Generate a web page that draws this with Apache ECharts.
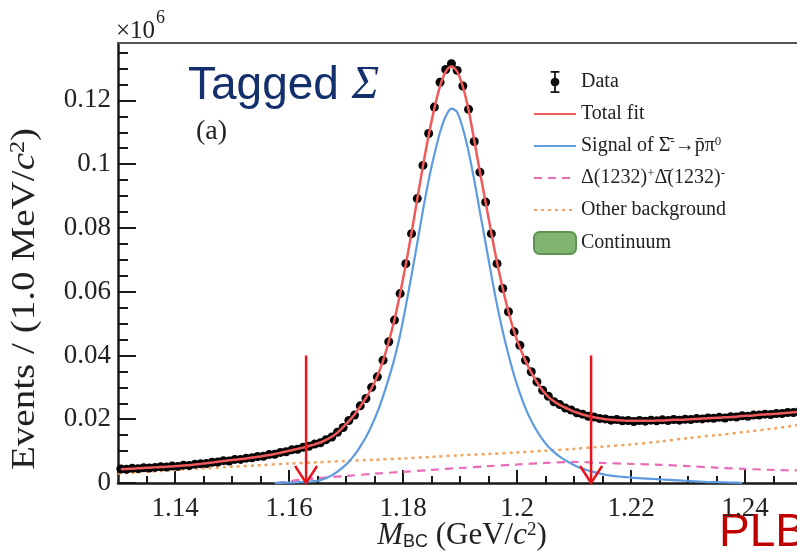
<!DOCTYPE html>
<html>
<head>
<meta charset="utf-8">
<script src="https://cdn.jsdelivr.net/npm/echarts@6/dist/echarts.min.js"></script>
<style>
html, body { margin: 0; padding: 0; background: #fff; }
#chart { width: 797px; height: 555px; }
</style>
</head>
<body>
<div id="chart"></div>
<script>
// bin centres (1 MeV bins), values in units of 10^6 events
var massBins = [
  1.1305, 1.1315, 1.1325, 1.1335, 1.1345, 1.1355, 1.1365, 1.1375, 1.1385, 1.1395,
  1.1405, 1.1415, 1.1425, 1.1435, 1.1445, 1.1455, 1.1465, 1.1475, 1.1485, 1.1495,
  1.1505, 1.1515, 1.1525, 1.1535, 1.1545, 1.1555, 1.1565, 1.1575, 1.1585, 1.1595,
  1.1605, 1.1615, 1.1625, 1.1635, 1.1645, 1.1655, 1.1665, 1.1675, 1.1685, 1.1695,
  1.1705, 1.1715, 1.1725, 1.1735, 1.1745, 1.1755, 1.1765, 1.1775, 1.1785, 1.1795,
  1.1805, 1.1815, 1.1825, 1.1835, 1.1845, 1.1855, 1.1865, 1.1875, 1.1885, 1.1895,
  1.1905, 1.1915, 1.1925, 1.1935, 1.1945, 1.1955, 1.1965, 1.1975, 1.1985, 1.1995,
  1.2005, 1.2015, 1.2025, 1.2035, 1.2045, 1.2055, 1.2065, 1.2075, 1.2085, 1.2095,
  1.2105, 1.2115, 1.2125, 1.2135, 1.2145, 1.2155, 1.2165, 1.2175, 1.2185, 1.2195,
  1.2205, 1.2215, 1.2225, 1.2235, 1.2245, 1.2255, 1.2265, 1.2275, 1.2285, 1.2295,
  1.2305, 1.2315, 1.2325, 1.2335, 1.2345, 1.2355, 1.2365, 1.2375, 1.2385, 1.2395,
  1.2405, 1.2415, 1.2425, 1.2435, 1.2445, 1.2455, 1.2465, 1.2475, 1.2485, 1.2495
];

var dataEvents = [
  0.0044, 0.0043, 0.0046, 0.0045, 0.0048, 0.0047, 0.0049, 0.0051, 0.0050, 0.0053,
  0.0052, 0.0056, 0.0055, 0.0059, 0.0060, 0.0061, 0.0065, 0.0066, 0.0070, 0.0069,
  0.0074, 0.0074, 0.0078, 0.0079, 0.0083, 0.0084, 0.0089, 0.0090, 0.0096, 0.0098,
  0.0104, 0.0106, 0.0112, 0.0115, 0.0122, 0.0126, 0.0136, 0.0144, 0.0159, 0.0174,
  0.0196, 0.0213, 0.0242, 0.0265, 0.0300, 0.0333, 0.0385, 0.0443, 0.0511, 0.0594,
  0.0688, 0.0782, 0.0892, 0.0996, 0.1096, 0.1179, 0.1257, 0.1297, 0.1315, 0.1294,
  0.1245, 0.1172, 0.1071, 0.0975, 0.0881, 0.0782, 0.0688, 0.0610, 0.0537, 0.0474,
  0.0432, 0.0385, 0.0349, 0.0317, 0.0291, 0.0272, 0.0255, 0.0246, 0.0235, 0.0229,
  0.0220, 0.0216, 0.0209, 0.0207, 0.0202, 0.0201, 0.0197, 0.0199, 0.0195, 0.0196,
  0.0193, 0.0196, 0.0194, 0.0197, 0.0195, 0.0198, 0.0196, 0.0199, 0.0197, 0.0200,
  0.0199, 0.0202, 0.0201, 0.0204, 0.0203, 0.0206, 0.0204, 0.0208, 0.0207, 0.0211,
  0.0209, 0.0213, 0.0213, 0.0216, 0.0215, 0.0218, 0.0218, 0.0221, 0.0221, 0.0224
];

var totalFit = [
  0.0043, 0.0044, 0.0045, 0.0046, 0.0047, 0.0048, 0.0049, 0.0050, 0.0051, 0.0052,
  0.0053, 0.0055, 0.0056, 0.0058, 0.0060, 0.0062, 0.0064, 0.0067, 0.0069, 0.0071,
  0.0073, 0.0075, 0.0077, 0.0080, 0.0082, 0.0085, 0.0088, 0.0091, 0.0095, 0.0099,
  0.0103, 0.0107, 0.0111, 0.0116, 0.0121, 0.0127, 0.0135, 0.0145, 0.0158, 0.0175,
  0.0194, 0.0215, 0.0240, 0.0267, 0.0298, 0.0335, 0.0383, 0.0443, 0.0512, 0.0594,
  0.0686, 0.0785, 0.0890, 0.0994, 0.1090, 0.1175, 0.1245, 0.1290, 0.1306, 0.1290,
  0.1243, 0.1170, 0.1075, 0.0975, 0.0880, 0.0784, 0.0692, 0.0610, 0.0537, 0.0475,
  0.0425, 0.0383, 0.0347, 0.0316, 0.0290, 0.0270, 0.0256, 0.0245, 0.0236, 0.0228,
  0.0221, 0.0215, 0.0210, 0.0206, 0.0203, 0.0200, 0.0198, 0.0197, 0.0196, 0.0195,
  0.0195, 0.0195, 0.0195, 0.0195, 0.0196, 0.0196, 0.0197, 0.0198, 0.0198, 0.0199,
  0.0200, 0.0201, 0.0202, 0.0203, 0.0204, 0.0205, 0.0206, 0.0207, 0.0208, 0.0210,
  0.0211, 0.0212, 0.0214, 0.0215, 0.0216, 0.0217, 0.0219, 0.0220, 0.0222, 0.0223
];

// null where the signal curve is not drawn
var signalFit = [
  null, null, null, null, null, null, null, null, null, null,
  null, null, null, null, null, null, null, null, null, null,
  null, null, null, null, null, null, null, 0, 0.0001, 0.0001,
  0.0001, 0.0002, 0.0003, 0.0004, 0.0006, 0.0009, 0.0015, 0.0024, 0.0036, 0.0050,
  0.0067, 0.0088, 0.0114, 0.0144, 0.0180, 0.0222, 0.0272, 0.0328, 0.0390, 0.0465,
  0.0556, 0.0652, 0.0752, 0.0855, 0.0950, 0.1030, 0.1100, 0.1150, 0.1174, 0.1163,
  0.1112, 0.1040, 0.0950, 0.0850, 0.0752, 0.0652, 0.0558, 0.0475, 0.0402, 0.0337,
  0.0282, 0.0234, 0.0195, 0.0163, 0.0136, 0.0114, 0.0097, 0.0083, 0.0071, 0.0061,
  0.0052, 0.0045, 0.0039, 0.0034, 0.0030, 0.0026, 0.0023, 0.0021, 0.0019, 0.0018,
  0.0016, 0.0015, 0.0014, 0.0013, 0.0012, 0.0011, 0.0010, 0.0009, 0.0008, 0.0007,
  0.0006, 0.0005, 0.0004, 0.0003, 0.0003, 0.0002, 0.0002, 0.0001, 0.0001, 0,
  null, null, null, null, null, null, null, null, null, null
];

var deltaMass = [1.158, 1.160, 1.162, 1.165, 1.170, 1.175, 1.180, 1.185, 1.190, 1.195, 1.200,
  1.205, 1.210, 1.215, 1.220, 1.225, 1.230, 1.235, 1.240, 1.245, 1.250];
var deltaFit = [0, 0.0005, 0.0010, 0.0015, 0.0022, 0.0029, 0.0035, 0.0041, 0.0047, 0.0053, 0.0058,
  0.0063, 0.0066, 0.0063, 0.0060, 0.0057, 0.0053, 0.0048, 0.0044, 0.0041, 0.0039];

var otherMass = [1.130, 1.135, 1.140, 1.145, 1.150, 1.155, 1.160, 1.165, 1.170, 1.175, 1.180, 1.185,
  1.190, 1.195, 1.200, 1.205, 1.210, 1.215, 1.220, 1.225, 1.230, 1.235, 1.240, 1.245, 1.250];
var otherFit = [0.0030, 0.0035, 0.0041, 0.0046, 0.0051, 0.0056, 0.0061, 0.0065, 0.0069, 0.0073, 0.0077, 0.0082,
  0.0087, 0.0091, 0.0096, 0.0101, 0.0107, 0.0114, 0.0121, 0.0130, 0.0141, 0.0150, 0.0160, 0.0171, 0.0184];

// signal window cuts (red arrows)
var cutMass = [1.163, 1.213];
var cutTop = 0.04;

var xMajor = [1.14, 1.16, 1.18, 1.2, 1.22, 1.24];
var xMinor = [1.135, 1.145, 1.15, 1.155, 1.165, 1.17, 1.175, 1.185, 1.19, 1.195,
  1.205, 1.21, 1.215, 1.225, 1.23, 1.235, 1.245];
var yMajor = [0, 0.02, 0.04, 0.06, 0.08, 0.1, 0.12];
var yMinor = [0.005, 0.01, 0.015, 0.025, 0.03, 0.035, 0.045, 0.05, 0.055, 0.065, 0.07, 0.075,
  0.085, 0.09, 0.095, 0.105, 0.11, 0.115, 0.125, 0.13, 0.135];

var serif = '"Liberation Serif", "Times New Roman", serif';
var sans = '"Liberation Sans", Arial, sans-serif';

function pairs(xs, ys) {
  return xs.map(function (x, i) { return [x, ys[i]]; });
}

var legendText = {
  'Signal': 'Signal of {ov|\u03A3\u0304}{sup|-}\u2192{ov|p\u0304}\u03C0{sup|0}',
  'Delta': '\u0394(1232){sup|+}\u0394\u0304(1232){sup|-}'
};

var chart = echarts.init(document.getElementById('chart'));

var hideDot = { opacity: 0 };

var option = {
  animation: false,
  backgroundColor: '#fff',
  grid: { left: 118, right: -5, top: 43, bottom: 72, containLabel: false, outerBoundsMode: 'none' },
  legend: {
    orient: 'vertical',
    left: 528,
    top: 66,
    itemWidth: 42,
    itemHeight: 22,
    itemGap: 10,
    selectedMode: false,
    textStyle: {
      fontFamily: serif, fontSize: 20, color: '#222', lineHeight: 22,
      rich: {
        sup: { fontFamily: serif, fontSize: 13, color: '#222', verticalAlign: 'top' },
        ov: { fontFamily: serif, fontSize: 20, color: '#222' }
      }
    },
    formatter: function (name) { return legendText[name] || name; },
    data: [
      { name: 'Data', icon: 'path://M2,0H10V1.6H6.8V6.08A4,4,0,0,1,6.8,13.92V18.4H10V20H2V18.4H5.2V13.92A4,4,0,0,1,5.2,6.08V1.6H2Z', itemStyle: { color: '#111', opacity: 1 } },
      { name: 'Total fit', itemStyle: hideDot },
      { name: 'Signal', itemStyle: hideDot },
      { name: 'Delta', itemStyle: hideDot },
      { name: 'Other background', itemStyle: hideDot },
      { name: 'Continuum', icon: 'roundRect', itemStyle: { color: '#80b470', borderColor: '#5e9552', borderWidth: 2, opacity: 1 } }
    ]
  },
  xAxis: [
    {
      type: 'value', position: 'bottom', min: 1.13, max: 1.25,
      axisLine: { lineStyle: { color: '#1a1a1a', width: 2.5 } },
      axisTick: { inside: true, length: 13, customValues: xMajor, lineStyle: { color: '#1a1a1a', width: 2 } },
      axisLabel: { customValues: xMajor, margin: 12, fontFamily: serif, fontSize: 27, color: '#222' },
      splitLine: { show: false }
    },
    {
      type: 'value', position: 'bottom', min: 1.13, max: 1.25,
      axisLine: { show: false },
      axisTick: { inside: true, length: 7, customValues: xMinor, lineStyle: { color: '#1a1a1a', width: 2 } },
      axisLabel: { show: false },
      splitLine: { show: false }
    },
    {
      type: 'value', position: 'top', min: 1.13, max: 1.25,
      axisLine: { lineStyle: { color: '#555', width: 2 } },
      axisTick: { show: false },
      axisLabel: { show: false },
      splitLine: { show: false }
    }
  ],
  yAxis: [
    {
      type: 'value', position: 'left', min: 0, max: 0.138,
      axisLine: { show: true, lineStyle: { color: '#1a1a1a', width: 2.5 } },
      axisTick: { show: true, inside: true, length: 18, customValues: yMajor, lineStyle: { color: '#1a1a1a', width: 2 } },
      axisLabel: { customValues: yMajor, margin: 7, fontFamily: serif, fontSize: 27, color: '#222' },
      splitLine: { show: false }
    },
    {
      type: 'value', position: 'left', min: 0, max: 0.138,
      axisLine: { show: false },
      axisTick: { show: true, inside: true, length: 10, customValues: yMinor, lineStyle: { color: '#1a1a1a', width: 2 } },
      axisLabel: { show: false },
      splitLine: { show: false }
    }
  ],
  series: [
    {
      name: 'Data', type: 'scatter', data: pairs(massBins, dataEvents),
      symbolSize: 9, itemStyle: { color: '#050505', opacity: 1 }, z: 3
    },
    {
      name: 'Other background', type: 'line', data: pairs(otherMass, otherFit),
      symbol: 'none', smooth: 0.3,
      lineStyle: { color: '#f2a35e', width: 2.5, type: [3, 4] }, itemStyle: { color: '#f2a35e' }, z: 2
    },
    {
      name: 'Delta', type: 'line', data: pairs(deltaMass, deltaFit),
      symbol: 'none', smooth: 0.3,
      lineStyle: { color: '#ea6cb8', width: 2.2, type: [8, 6] }, itemStyle: { color: '#ea6cb8' }, z: 2
    },
    {
      name: 'Signal', type: 'line', data: pairs(massBins, signalFit),
      symbol: 'none', smooth: 0.3, connectNulls: false,
      lineStyle: { color: '#5d9be0', width: 2.2 }, itemStyle: { color: '#5d9be0' }, z: 4
    },
    {
      name: 'Total fit', type: 'line', data: pairs(massBins, totalFit),
      symbol: 'none', smooth: 0.3,
      lineStyle: { color: '#f05a5a', width: 2.5 }, itemStyle: { color: '#f05a5a' }, z: 5
    },
    {
      name: 'Continuum', type: 'line', data: [],
      symbol: 'none', areaStyle: { color: '#80b470' }, itemStyle: { color: '#80b470' }
    },
    {
      type: 'custom', z: 6, clip: false,
      data: cutMass.map(function (m) { return [m, cutTop, 0]; }),
      encode: { x: 0, y: [1, 2] },
      renderItem: function (params, api) {
        var top = api.coord([api.value(0), api.value(1)]);
        var tip = api.coord([api.value(0), api.value(2)]);
        var st = { stroke: '#e8141c', lineWidth: 2.5, fill: null };
        return {
          type: 'group',
          children: [
            { type: 'line', shape: { x1: top[0], y1: top[1], x2: tip[0], y2: tip[1] }, style: st },
            { type: 'polyline', shape: { points: [[tip[0] - 11, tip[1] - 17], [tip[0], tip[1]], [tip[0] + 11, tip[1] - 17]] }, style: st }
          ]
        };
      }
    }
  ],
  graphic: [
    { type: 'text', x: 116, y: 31, style: { text: '\u00D710', fontFamily: serif, fontSize: 25, fill: '#222', align: 'left', verticalAlign: 'middle' } },
    { type: 'text', x: 156, y: 18, style: { text: '6', fontFamily: serif, fontSize: 18, fill: '#222', align: 'left', verticalAlign: 'middle' } },
    {
      type: 'text', x: 188, y: 86,
      style: {
        text: '{n|Tagged }{s|\u03A3}', align: 'left', verticalAlign: 'middle',
        rich: {
          n: { fontFamily: sans, fontSize: 46, fill: '#13306d' },
          s: { fontFamily: serif, fontSize: 46, fontStyle: 'italic', fill: '#13306d' }
        }
      }
    },
    { type: 'text', x: 196, y: 132, style: { text: '(a)', fontFamily: serif, fontSize: 28, fill: '#222', align: 'left', verticalAlign: 'middle' } },
    { type: 'text', x: 719, y: 533, style: { text: 'PLB', fontFamily: sans, fontSize: 46, fill: '#c00000', align: 'left', verticalAlign: 'middle' } },
    {
      type: 'text', x: 25, y: 299, rotation: Math.PI / 2, scaleX: 1.15,
      style: {
        text: 'Events / (1.0 MeV/{it|c}{sup|2})', fontFamily: serif, fontSize: 34, fill: '#222',
        align: 'center', verticalAlign: 'middle',
        rich: {
          it: { fontFamily: serif, fontSize: 34, fontStyle: 'italic', fill: '#222' },
          sup: { fontFamily: serif, fontSize: 21, fill: '#222', verticalAlign: 'top' }
        }
      }
    },
    {
      type: 'text', x: 462, y: 536,
      style: {
        text: '{it|M}{sub|BC} (GeV/{it|c}{sup|2})', fontFamily: serif, fontSize: 31, fill: '#222',
        align: 'center', verticalAlign: 'middle',
        rich: {
          it: { fontFamily: serif, fontSize: 31, fontStyle: 'italic', fill: '#222' },
          sub: { fontFamily: sans, fontSize: 18, fill: '#222', verticalAlign: 'bottom' },
          sup: { fontFamily: serif, fontSize: 19, fill: '#222', verticalAlign: 'top' }
        }
      }
    }
  ]
};

chart.setOption(option);
</script>
</body>
</html>
